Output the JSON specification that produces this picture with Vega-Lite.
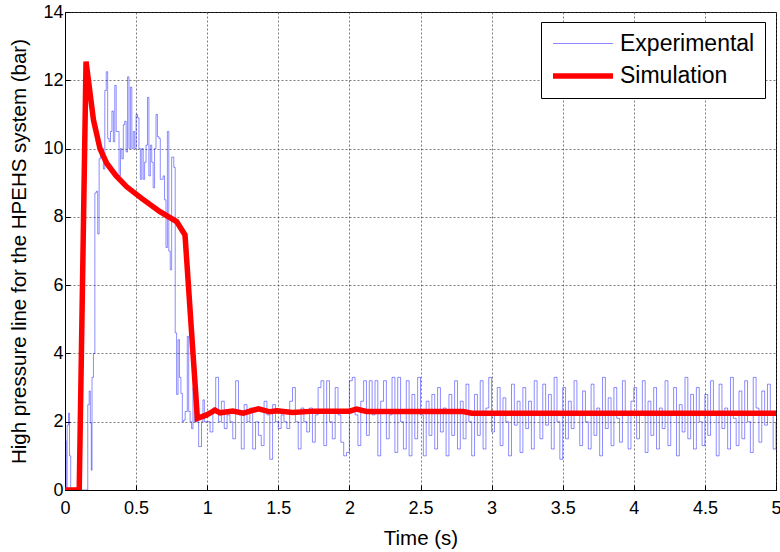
{
  "$schema": "https://vega.github.io/schema/vega-lite/v6.json",
  "autosize": {"type": "none"},
  "width": 711,
  "height": 478,
  "padding": {"left": 65, "top": 12, "right": 4, "bottom": 62},
  "background": "white",
  "config": {
    "font": "Liberation Sans",
    "view": {"stroke": "black", "strokeWidth": 1},
    "axis": {
      "domainColor": "black",
      "tickColor": "black",
      "tickSize": -5,
      "labelColor": "black",
      "titleColor": "black",
      "labelFont": "Liberation Sans",
      "titleFont": "Liberation Sans",
      "labelFontSize": 18,
      "titleFontSize": 20.5,
      "titleFontWeight": "normal",
      "gridColor": "#444444",
      "gridDash": [2, 2],
      "gridOpacity": 0.7,
      "gridWidth": 1
    }
  },
  "datasets": {
    "sim": [
      {"t": 0.0, "v": 0.0, "series": "Simulation"},
      {"t": 0.1, "v": 0.0, "series": "Simulation"},
      {"t": 0.148, "v": 12.55, "series": "Simulation"},
      {"t": 0.2, "v": 10.84, "series": "Simulation"},
      {"t": 0.246, "v": 10.0, "series": "Simulation"},
      {"t": 0.293, "v": 9.57, "series": "Simulation"},
      {"t": 0.36, "v": 9.2, "series": "Simulation"},
      {"t": 0.434, "v": 8.88, "series": "Simulation"},
      {"t": 0.539, "v": 8.54, "series": "Simulation"},
      {"t": 0.668, "v": 8.15, "series": "Simulation"},
      {"t": 0.785, "v": 7.86, "series": "Simulation"},
      {"t": 0.844, "v": 7.47, "series": "Simulation"},
      {"t": 0.931, "v": 2.1, "series": "Simulation"},
      {"t": 0.996, "v": 2.2, "series": "Simulation"},
      {"t": 1.055, "v": 2.34, "series": "Simulation"},
      {"t": 1.09, "v": 2.26, "series": "Simulation"},
      {"t": 1.18, "v": 2.31, "series": "Simulation"},
      {"t": 1.254, "v": 2.25, "series": "Simulation"},
      {"t": 1.36, "v": 2.38, "series": "Simulation"},
      {"t": 1.44, "v": 2.29, "series": "Simulation"},
      {"t": 1.49, "v": 2.32, "series": "Simulation"},
      {"t": 1.6, "v": 2.27, "series": "Simulation"},
      {"t": 1.75, "v": 2.31, "series": "Simulation"},
      {"t": 2.0, "v": 2.31, "series": "Simulation"},
      {"t": 2.05, "v": 2.37, "series": "Simulation"},
      {"t": 2.12, "v": 2.3, "series": "Simulation"},
      {"t": 2.8, "v": 2.3, "series": "Simulation"},
      {"t": 2.86, "v": 2.25, "series": "Simulation"},
      {"t": 5.0, "v": 2.25, "series": "Simulation"}
    ],
    "exp": [
      {"t": 0.0, "v": 1.45, "series": "Experimental"},
      {"t": 0.008, "v": 0.0, "series": "Experimental"},
      {"t": 0.015, "v": 1.9, "series": "Experimental"},
      {"t": 0.025, "v": 2.25, "series": "Experimental"},
      {"t": 0.032, "v": 1.0, "series": "Experimental"},
      {"t": 0.04, "v": 0.0, "series": "Experimental"},
      {"t": 0.16, "v": 2.5, "series": "Experimental"},
      {"t": 0.17, "v": 2.9, "series": "Experimental"},
      {"t": 0.178, "v": 1.96, "series": "Experimental"},
      {"t": 0.185, "v": 0.58, "series": "Experimental"},
      {"t": 0.19, "v": 3.3, "series": "Experimental"},
      {"t": 0.2, "v": 4.0, "series": "Experimental"},
      {"t": 0.21, "v": 8.7, "series": "Experimental"},
      {"t": 0.22, "v": 8.75, "series": "Experimental"},
      {"t": 0.23, "v": 7.5, "series": "Experimental"},
      {"t": 0.24, "v": 9.7, "series": "Experimental"},
      {"t": 0.25, "v": 10.0, "series": "Experimental"},
      {"t": 0.26, "v": 10.0, "series": "Experimental"},
      {"t": 0.27, "v": 9.4, "series": "Experimental"},
      {"t": 0.28, "v": 11.7, "series": "Experimental"},
      {"t": 0.29, "v": 12.25, "series": "Experimental"},
      {"t": 0.3, "v": 10.3, "series": "Experimental"},
      {"t": 0.31, "v": 10.2, "series": "Experimental"},
      {"t": 0.32, "v": 10.5, "series": "Experimental"},
      {"t": 0.33, "v": 11.1, "series": "Experimental"},
      {"t": 0.34, "v": 10.2, "series": "Experimental"},
      {"t": 0.35, "v": 11.85, "series": "Experimental"},
      {"t": 0.36, "v": 10.5, "series": "Experimental"},
      {"t": 0.37, "v": 10.5, "series": "Experimental"},
      {"t": 0.38, "v": 9.2, "series": "Experimental"},
      {"t": 0.39, "v": 10.0, "series": "Experimental"},
      {"t": 0.4, "v": 9.7, "series": "Experimental"},
      {"t": 0.41, "v": 10.7, "series": "Experimental"},
      {"t": 0.42, "v": 10.8, "series": "Experimental"},
      {"t": 0.43, "v": 9.9, "series": "Experimental"},
      {"t": 0.44, "v": 12.1, "series": "Experimental"},
      {"t": 0.45, "v": 10.0, "series": "Experimental"},
      {"t": 0.46, "v": 11.8, "series": "Experimental"},
      {"t": 0.47, "v": 10.0, "series": "Experimental"},
      {"t": 0.48, "v": 10.5, "series": "Experimental"},
      {"t": 0.49, "v": 10.0, "series": "Experimental"},
      {"t": 0.5, "v": 11.0, "series": "Experimental"},
      {"t": 0.51, "v": 10.9, "series": "Experimental"},
      {"t": 0.52, "v": 10.0, "series": "Experimental"},
      {"t": 0.53, "v": 9.1, "series": "Experimental"},
      {"t": 0.54, "v": 10.0, "series": "Experimental"},
      {"t": 0.55, "v": 9.1, "series": "Experimental"},
      {"t": 0.56, "v": 9.6, "series": "Experimental"},
      {"t": 0.57, "v": 10.1, "series": "Experimental"},
      {"t": 0.58, "v": 11.5, "series": "Experimental"},
      {"t": 0.59, "v": 9.2, "series": "Experimental"},
      {"t": 0.6, "v": 10.1, "series": "Experimental"},
      {"t": 0.61, "v": 9.6, "series": "Experimental"},
      {"t": 0.62, "v": 8.85, "series": "Experimental"},
      {"t": 0.63, "v": 10.0, "series": "Experimental"},
      {"t": 0.64, "v": 11.0, "series": "Experimental"},
      {"t": 0.65, "v": 10.35, "series": "Experimental"},
      {"t": 0.66, "v": 10.3, "series": "Experimental"},
      {"t": 0.67, "v": 9.1, "series": "Experimental"},
      {"t": 0.68, "v": 9.1, "series": "Experimental"},
      {"t": 0.69, "v": 9.2, "series": "Experimental"},
      {"t": 0.7, "v": 8.5, "series": "Experimental"},
      {"t": 0.71, "v": 7.1, "series": "Experimental"},
      {"t": 0.72, "v": 10.5, "series": "Experimental"},
      {"t": 0.73, "v": 7.0, "series": "Experimental"},
      {"t": 0.74, "v": 6.45, "series": "Experimental"},
      {"t": 0.75, "v": 9.75, "series": "Experimental"},
      {"t": 0.765, "v": 9.45, "series": "Experimental"},
      {"t": 0.775, "v": 4.6, "series": "Experimental"},
      {"t": 0.785, "v": 2.8, "series": "Experimental"},
      {"t": 0.795, "v": 4.4, "series": "Experimental"},
      {"t": 0.805, "v": 3.3, "series": "Experimental"},
      {"t": 0.815, "v": 2.83, "series": "Experimental"},
      {"t": 0.825, "v": 2.0, "series": "Experimental"},
      {"t": 0.835, "v": 2.05, "series": "Experimental"},
      {"t": 0.845, "v": 2.3, "series": "Experimental"},
      {"t": 0.86, "v": 4.5, "series": "Experimental"},
      {"t": 0.87, "v": 2.3, "series": "Experimental"},
      {"t": 0.88, "v": 2.0, "series": "Experimental"},
      {"t": 0.89, "v": 1.8, "series": "Experimental"},
      {"t": 0.9, "v": 3.0, "series": "Experimental"},
      {"t": 0.91, "v": 2.0, "series": "Experimental"},
      {"t": 0.92, "v": 2.0, "series": "Experimental"},
      {"t": 0.94, "v": 1.27, "series": "Experimental"},
      {"t": 0.96, "v": 2.0, "series": "Experimental"},
      {"t": 0.97, "v": 2.64, "series": "Experimental"},
      {"t": 0.98, "v": 2.0, "series": "Experimental"},
      {"t": 1.0, "v": 2.0, "series": "Experimental"},
      {"t": 1.02, "v": 1.7, "series": "Experimental"},
      {"t": 1.04, "v": 2.4, "series": "Experimental"},
      {"t": 1.06, "v": 3.3, "series": "Experimental"},
      {"t": 1.08, "v": 2.0, "series": "Experimental"},
      {"t": 1.1, "v": 2.6, "series": "Experimental"},
      {"t": 1.12, "v": 1.8, "series": "Experimental"},
      {"t": 1.14, "v": 2.2, "series": "Experimental"},
      {"t": 1.16, "v": 2.0, "series": "Experimental"},
      {"t": 1.18, "v": 1.5, "series": "Experimental"},
      {"t": 1.2, "v": 3.2, "series": "Experimental"},
      {"t": 1.22, "v": 2.2, "series": "Experimental"},
      {"t": 1.24, "v": 1.2, "series": "Experimental"},
      {"t": 1.26, "v": 2.5, "series": "Experimental"},
      {"t": 1.28, "v": 2.0, "series": "Experimental"},
      {"t": 1.3, "v": 2.4, "series": "Experimental"},
      {"t": 1.32, "v": 1.2, "series": "Experimental"},
      {"t": 1.34, "v": 2.0, "series": "Experimental"},
      {"t": 1.36, "v": 1.6, "series": "Experimental"},
      {"t": 1.38, "v": 1.3, "series": "Experimental"},
      {"t": 1.4, "v": 2.6, "series": "Experimental"},
      {"t": 1.42, "v": 2.2, "series": "Experimental"},
      {"t": 1.44, "v": 0.9, "series": "Experimental"},
      {"t": 1.46, "v": 2.5, "series": "Experimental"},
      {"t": 1.48, "v": 2.0, "series": "Experimental"},
      {"t": 1.5, "v": 1.8, "series": "Experimental"},
      {"t": 1.52, "v": 2.2, "series": "Experimental"},
      {"t": 1.54, "v": 2.0, "series": "Experimental"},
      {"t": 1.56, "v": 1.8, "series": "Experimental"},
      {"t": 1.58, "v": 2.6, "series": "Experimental"},
      {"t": 1.6, "v": 3.0, "series": "Experimental"},
      {"t": 1.62, "v": 2.0, "series": "Experimental"},
      {"t": 1.64, "v": 1.2, "series": "Experimental"},
      {"t": 1.66, "v": 2.4, "series": "Experimental"},
      {"t": 1.68, "v": 2.0, "series": "Experimental"},
      {"t": 1.7, "v": 1.7, "series": "Experimental"},
      {"t": 1.72, "v": 2.4, "series": "Experimental"},
      {"t": 1.74, "v": 1.4, "series": "Experimental"},
      {"t": 1.76, "v": 2.2, "series": "Experimental"},
      {"t": 1.78, "v": 3.0, "series": "Experimental"},
      {"t": 1.8, "v": 3.2, "series": "Experimental"},
      {"t": 1.82, "v": 1.3, "series": "Experimental"},
      {"t": 1.84, "v": 3.2, "series": "Experimental"},
      {"t": 1.86, "v": 2.0, "series": "Experimental"},
      {"t": 1.88, "v": 1.5, "series": "Experimental"},
      {"t": 1.9, "v": 3.0, "series": "Experimental"},
      {"t": 1.92, "v": 2.2, "series": "Experimental"},
      {"t": 1.94, "v": 1.4, "series": "Experimental"},
      {"t": 1.96, "v": 1.0, "series": "Experimental"},
      {"t": 1.98, "v": 1.1, "series": "Experimental"},
      {"t": 2.0, "v": 3.2, "series": "Experimental"},
      {"t": 2.02, "v": 3.3, "series": "Experimental"},
      {"t": 2.04, "v": 2.2, "series": "Experimental"},
      {"t": 2.06, "v": 1.3, "series": "Experimental"},
      {"t": 2.08, "v": 2.6, "series": "Experimental"},
      {"t": 2.1, "v": 3.2, "series": "Experimental"},
      {"t": 2.12, "v": 1.6, "series": "Experimental"},
      {"t": 2.14, "v": 3.2, "series": "Experimental"},
      {"t": 2.16, "v": 2.2, "series": "Experimental"},
      {"t": 2.18, "v": 3.2, "series": "Experimental"},
      {"t": 2.2, "v": 1.0, "series": "Experimental"},
      {"t": 2.22, "v": 2.6, "series": "Experimental"},
      {"t": 2.24, "v": 3.2, "series": "Experimental"},
      {"t": 2.26, "v": 1.5, "series": "Experimental"},
      {"t": 2.28, "v": 2.2, "series": "Experimental"},
      {"t": 2.3, "v": 3.3, "series": "Experimental"},
      {"t": 2.32, "v": 1.1, "series": "Experimental"},
      {"t": 2.34, "v": 3.3, "series": "Experimental"},
      {"t": 2.36, "v": 2.0, "series": "Experimental"},
      {"t": 2.38, "v": 1.2, "series": "Experimental"},
      {"t": 2.4, "v": 3.2, "series": "Experimental"},
      {"t": 2.42, "v": 1.0, "series": "Experimental"},
      {"t": 2.44, "v": 2.8, "series": "Experimental"},
      {"t": 2.46, "v": 1.5, "series": "Experimental"},
      {"t": 2.48, "v": 3.3, "series": "Experimental"},
      {"t": 2.5, "v": 2.2, "series": "Experimental"},
      {"t": 2.52, "v": 1.0, "series": "Experimental"},
      {"t": 2.54, "v": 2.6, "series": "Experimental"},
      {"t": 2.56, "v": 1.6, "series": "Experimental"},
      {"t": 2.58, "v": 2.8, "series": "Experimental"},
      {"t": 2.6, "v": 1.2, "series": "Experimental"},
      {"t": 2.62, "v": 3.0, "series": "Experimental"},
      {"t": 2.64, "v": 1.7, "series": "Experimental"},
      {"t": 2.66, "v": 2.4, "series": "Experimental"},
      {"t": 2.68, "v": 1.0, "series": "Experimental"},
      {"t": 2.7, "v": 2.8, "series": "Experimental"},
      {"t": 2.72, "v": 1.6, "series": "Experimental"},
      {"t": 2.74, "v": 3.2, "series": "Experimental"},
      {"t": 2.76, "v": 1.2, "series": "Experimental"},
      {"t": 2.78, "v": 2.6, "series": "Experimental"},
      {"t": 2.8, "v": 1.5, "series": "Experimental"},
      {"t": 2.82, "v": 3.1, "series": "Experimental"},
      {"t": 2.84, "v": 2.0, "series": "Experimental"},
      {"t": 2.86, "v": 1.0, "series": "Experimental"},
      {"t": 2.88, "v": 2.8, "series": "Experimental"},
      {"t": 2.9, "v": 1.6, "series": "Experimental"},
      {"t": 2.92, "v": 3.2, "series": "Experimental"},
      {"t": 2.94, "v": 1.2, "series": "Experimental"},
      {"t": 2.96, "v": 2.4, "series": "Experimental"},
      {"t": 2.98, "v": 3.3, "series": "Experimental"},
      {"t": 3.0, "v": 1.7, "series": "Experimental"},
      {"t": 3.02, "v": 2.2, "series": "Experimental"},
      {"t": 3.04, "v": 3.0, "series": "Experimental"},
      {"t": 3.06, "v": 1.3, "series": "Experimental"},
      {"t": 3.08, "v": 2.7, "series": "Experimental"},
      {"t": 3.1, "v": 2.0, "series": "Experimental"},
      {"t": 3.12, "v": 1.0, "series": "Experimental"},
      {"t": 3.14, "v": 3.1, "series": "Experimental"},
      {"t": 3.16, "v": 1.9, "series": "Experimental"},
      {"t": 3.18, "v": 2.6, "series": "Experimental"},
      {"t": 3.2, "v": 1.1, "series": "Experimental"},
      {"t": 3.22, "v": 3.0, "series": "Experimental"},
      {"t": 3.24, "v": 1.8, "series": "Experimental"},
      {"t": 3.26, "v": 2.6, "series": "Experimental"},
      {"t": 3.28, "v": 1.2, "series": "Experimental"},
      {"t": 3.3, "v": 3.2, "series": "Experimental"},
      {"t": 3.32, "v": 2.3, "series": "Experimental"},
      {"t": 3.34, "v": 1.5, "series": "Experimental"},
      {"t": 3.36, "v": 3.1, "series": "Experimental"},
      {"t": 3.38, "v": 1.9, "series": "Experimental"},
      {"t": 3.4, "v": 2.8, "series": "Experimental"},
      {"t": 3.42, "v": 1.2, "series": "Experimental"},
      {"t": 3.44, "v": 3.3, "series": "Experimental"},
      {"t": 3.46, "v": 2.0, "series": "Experimental"},
      {"t": 3.48, "v": 0.9, "series": "Experimental"},
      {"t": 3.5, "v": 3.0, "series": "Experimental"},
      {"t": 3.52, "v": 1.5, "series": "Experimental"},
      {"t": 3.54, "v": 2.6, "series": "Experimental"},
      {"t": 3.56, "v": 1.8, "series": "Experimental"},
      {"t": 3.58, "v": 3.2, "series": "Experimental"},
      {"t": 3.6, "v": 2.2, "series": "Experimental"},
      {"t": 3.62, "v": 1.3, "series": "Experimental"},
      {"t": 3.64, "v": 2.9, "series": "Experimental"},
      {"t": 3.66, "v": 2.0, "series": "Experimental"},
      {"t": 3.68, "v": 1.2, "series": "Experimental"},
      {"t": 3.7, "v": 3.1, "series": "Experimental"},
      {"t": 3.72, "v": 1.6, "series": "Experimental"},
      {"t": 3.74, "v": 2.4, "series": "Experimental"},
      {"t": 3.76, "v": 1.0, "series": "Experimental"},
      {"t": 3.78, "v": 3.3, "series": "Experimental"},
      {"t": 3.8, "v": 1.8, "series": "Experimental"},
      {"t": 3.82, "v": 2.7, "series": "Experimental"},
      {"t": 3.84, "v": 1.3, "series": "Experimental"},
      {"t": 3.86, "v": 3.0, "series": "Experimental"},
      {"t": 3.88, "v": 2.1, "series": "Experimental"},
      {"t": 3.9, "v": 1.4, "series": "Experimental"},
      {"t": 3.92, "v": 3.2, "series": "Experimental"},
      {"t": 3.94, "v": 2.2, "series": "Experimental"},
      {"t": 3.96, "v": 1.2, "series": "Experimental"},
      {"t": 3.98, "v": 2.6, "series": "Experimental"},
      {"t": 4.0, "v": 3.0, "series": "Experimental"},
      {"t": 4.02, "v": 1.5, "series": "Experimental"},
      {"t": 4.04, "v": 2.2, "series": "Experimental"},
      {"t": 4.06, "v": 3.2, "series": "Experimental"},
      {"t": 4.08, "v": 1.1, "series": "Experimental"},
      {"t": 4.1, "v": 2.6, "series": "Experimental"},
      {"t": 4.12, "v": 1.6, "series": "Experimental"},
      {"t": 4.14, "v": 3.0, "series": "Experimental"},
      {"t": 4.16, "v": 1.2, "series": "Experimental"},
      {"t": 4.18, "v": 2.4, "series": "Experimental"},
      {"t": 4.2, "v": 1.8, "series": "Experimental"},
      {"t": 4.22, "v": 3.2, "series": "Experimental"},
      {"t": 4.24, "v": 1.3, "series": "Experimental"},
      {"t": 4.26, "v": 2.2, "series": "Experimental"},
      {"t": 4.28, "v": 3.0, "series": "Experimental"},
      {"t": 4.3, "v": 1.0, "series": "Experimental"},
      {"t": 4.32, "v": 2.5, "series": "Experimental"},
      {"t": 4.34, "v": 1.7, "series": "Experimental"},
      {"t": 4.36, "v": 3.3, "series": "Experimental"},
      {"t": 4.38, "v": 1.5, "series": "Experimental"},
      {"t": 4.4, "v": 2.8, "series": "Experimental"},
      {"t": 4.42, "v": 1.2, "series": "Experimental"},
      {"t": 4.44, "v": 3.0, "series": "Experimental"},
      {"t": 4.46, "v": 2.0, "series": "Experimental"},
      {"t": 4.48, "v": 1.3, "series": "Experimental"},
      {"t": 4.5, "v": 2.8, "series": "Experimental"},
      {"t": 4.52, "v": 1.6, "series": "Experimental"},
      {"t": 4.54, "v": 3.2, "series": "Experimental"},
      {"t": 4.56, "v": 2.2, "series": "Experimental"},
      {"t": 4.58, "v": 1.0, "series": "Experimental"},
      {"t": 4.6, "v": 3.1, "series": "Experimental"},
      {"t": 4.62, "v": 1.8, "series": "Experimental"},
      {"t": 4.64, "v": 2.4, "series": "Experimental"},
      {"t": 4.66, "v": 1.2, "series": "Experimental"},
      {"t": 4.68, "v": 3.3, "series": "Experimental"},
      {"t": 4.7, "v": 2.1, "series": "Experimental"},
      {"t": 4.72, "v": 1.3, "series": "Experimental"},
      {"t": 4.74, "v": 2.9, "series": "Experimental"},
      {"t": 4.76, "v": 1.5, "series": "Experimental"},
      {"t": 4.78, "v": 3.2, "series": "Experimental"},
      {"t": 4.8, "v": 2.0, "series": "Experimental"},
      {"t": 4.82, "v": 1.1, "series": "Experimental"},
      {"t": 4.84, "v": 3.3, "series": "Experimental"},
      {"t": 4.86, "v": 2.4, "series": "Experimental"},
      {"t": 4.88, "v": 1.4, "series": "Experimental"},
      {"t": 4.9, "v": 2.9, "series": "Experimental"},
      {"t": 4.92, "v": 1.9, "series": "Experimental"},
      {"t": 4.94, "v": 3.1, "series": "Experimental"},
      {"t": 4.96, "v": 2.2, "series": "Experimental"},
      {"t": 4.98, "v": 1.2, "series": "Experimental"},
      {"t": 5.0, "v": 2.0, "series": "Experimental"}
    ]
  },
  "encoding": {
    "x": {
      "field": "t", "type": "quantitative",
      "scale": {"domain": [0, 5], "nice": false, "zero": false},
      "axis": {"title": "Time (s)", "values": [0, 0.5, 1, 1.5, 2, 2.5, 3, 3.5, 4, 4.5, 5], "format": "~g", "labelPadding": 14, "titlePadding": 11, "labelFlush": false}
    },
    "y": {
      "field": "v", "type": "quantitative",
      "scale": {"domain": [0, 14], "nice": false},
      "axis": {"title": "High pressure line for the HPEHS system (bar)", "values": [0, 2, 4, 6, 8, 10, 12, 14], "labelPadding": 7, "titlePadding": 13, "labelFlush": false}
    },
    "color": {
      "field": "series", "type": "nominal",
      "scale": {"domain": ["Experimental", "Simulation"], "range": ["#0000ff", "#ff0000"]},
      "legend": {
        "title": null, "orient": "none", "legendX": 476, "legendY": 10,
        "symbolType": "M-3,0H3", "symbolSize": 400, "symbolOffset": 19,
        "labelFontSize": 23, "labelFont": "Liberation Sans",
        "labelColor": "black", "padding": 10, "rowPadding": 7, "labelOffset": 24,
        "strokeColor": "black", "fillColor": "white", "cornerRadius": 0, "labelLimit": 300
      }
    },
    "strokeWidth": {
      "field": "series", "type": "nominal",
      "scale": {"domain": ["Experimental", "Simulation"], "range": [1, 5.5]},
      "legend": null
    },
    "opacity": {
      "field": "series", "type": "nominal",
      "scale": {"domain": ["Experimental", "Simulation"], "range": [0.45, 1]},
      "legend": null
    }
  },
  "layer": [
    {"data": {"name": "exp"}, "mark": {"type": "line", "interpolate": "step-after", "clip": true}},
    {"data": {"name": "sim"}, "mark": {"type": "line", "interpolate": "linear", "clip": true}}
  ]
}
